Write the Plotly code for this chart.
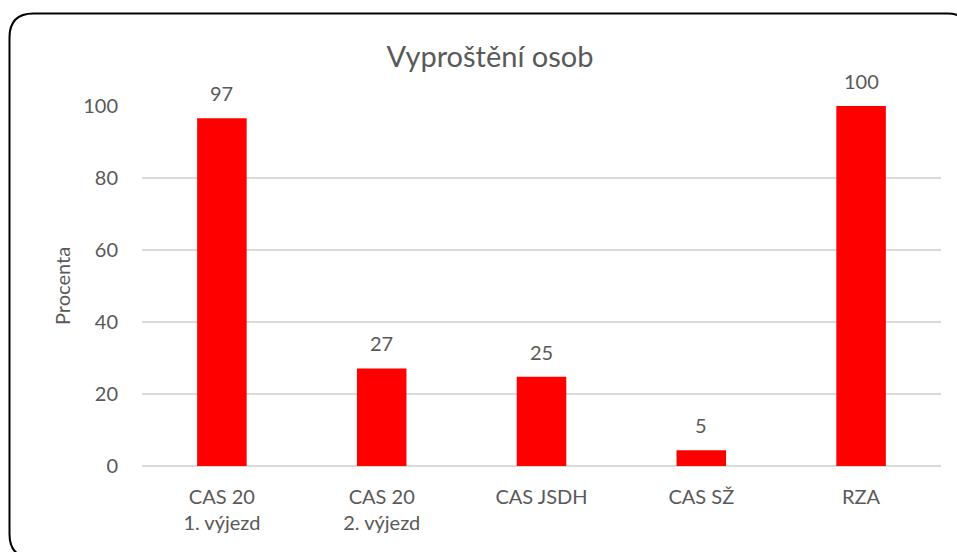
import plotly.graph_objects as go

categories = ["CAS 20<br>1. výjezd", "CAS 20<br>2. výjezd", "CAS JSDH", "CAS SŽ", "RZA"]
values = [96.6, 27.1, 24.8, 4.4, 100.0]
labels = ["97", "27", "25", "5", "100"]
y_ticks = [0, 20, 40, 60, 80, 100]

W, H = 957, 552
ML, MR, MT, MB = 142, 16, 106, 86
PW, PH = W - ML - MR, H - MT - MB
FONT = "Lato, Carlito, Calibri, sans-serif"
GREY = "#595959"
FS = 20

def px(x):
    return (x - ML) / PW

def py(y):
    return (H - MB - y) / PH

fig = go.Figure(go.Bar(
    x=categories, y=values,
    marker=dict(color="#ff0000", line=dict(width=0)),
    hoverinfo="skip",
))

for c, v, t in zip(categories, values, labels):
    fig.add_annotation(x=c, y=v, text=t, showarrow=False, yanchor="middle",
                       yshift=25, font=dict(size=FS, color=GREY, family=FONT))

# y-axis title
fig.add_annotation(x=px(62), y=0.5, xref="paper", yref="paper", text="Procenta",
                   textangle=-90, showarrow=False, xanchor="center", yanchor="middle",
                   font=dict(size=FS, color=GREY, family=FONT))

# rounded chart border
x0, y0, x1, y1, r = 9.5, 13.5, 971, 558, 24
path = (f"M {px(x0)},{py(y0 + r)} "
        f"Q {px(x0)},{py(y0)} {px(x0 + r)},{py(y0)} "
        f"L {px(x1 - r)},{py(y0)} "
        f"Q {px(x1)},{py(y0)} {px(x1)},{py(y0 + r)} "
        f"L {px(x1)},{py(y1 - r)} "
        f"Q {px(x1)},{py(y1)} {px(x1 - r)},{py(y1)} "
        f"L {px(x0 + r)},{py(y1)} "
        f"Q {px(x0)},{py(y1)} {px(x0)},{py(y1 - r)} Z")
fig.add_shape(type="path", path=path, xref="paper", yref="paper",
              line=dict(color="black", width=2), layer="above")

fig.update_layout(
    width=W, height=H,
    margin=dict(l=ML, r=MR, t=MT, b=MB),
    paper_bgcolor="white", plot_bgcolor="white",
    bargap=0.69,
    showlegend=False,
    font=dict(family=FONT, color=GREY, size=FS),
    title=dict(text="Vyproštění osob", x=490 / W, xanchor="center",
               y=1 - 57 / H, yanchor="middle",
               font=dict(size=29, color=GREY, family=FONT)),
    xaxis=dict(showgrid=False, showline=False, ticks="", ticklabelstandoff=17,
               tickfont=dict(size=FS, color=GREY, family=FONT)),
    yaxis=dict(range=[0, 100], tickvals=y_ticks, showgrid=True, gridcolor="#d9d9d9",
               gridwidth=1.5, zeroline=True, zerolinecolor="#d9d9d9", zerolinewidth=1.5,
               showline=False, ticks="", ticklabelstandoff=23,
               tickfont=dict(size=FS, color=GREY, family=FONT)),
)

fig.write_html("out.html", config={"displayModeBar": False},
               post_script="document.body.style.margin='0px';")
